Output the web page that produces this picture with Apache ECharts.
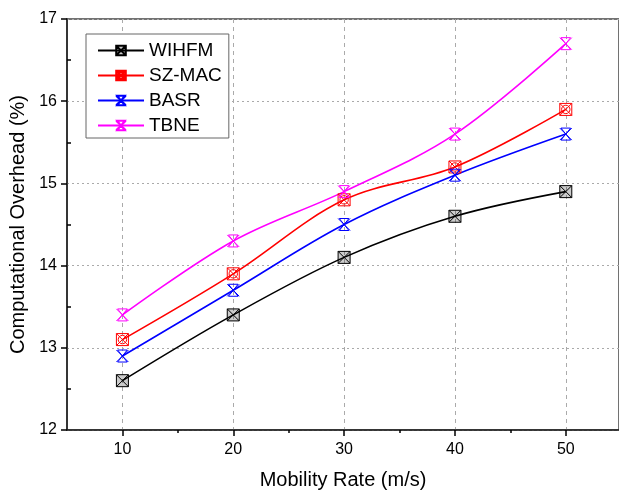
<!DOCTYPE html>
<html>
<head>
<meta charset="utf-8">
<script src="https://cdn.jsdelivr.net/npm/echarts@6/dist/echarts.min.js"></script>
<style>html,body{margin:0;padding:0;background:#fff;}#chart{width:619px;height:491px;}</style>
</head>
<body>
<div id="chart"></div>
<script>
var mobilityRates = [10, 20, 30, 40, 50];
var wihfm = [12.6, 13.4, 14.1, 14.6, 14.9];
var szmac = [13.1, 13.9, 14.8, 15.2, 15.9];
var basr = [12.9, 13.7, 14.5, 15.1, 15.6];
var tbne = [13.4, 14.3, 14.9, 15.6, 16.7];
var xMajorTicks = [10, 20, 30, 40, 50];
var xMinorTicks = [15, 25, 35, 45];
var yMajorTicks = [12, 13, 14, 15, 16, 17];
var yMinorTicks = [12.5, 13.5, 14.5, 15.5, 16.5];
var seriesNames = ['WIHFM', 'SZ-MAC', 'BASR', 'TBNE'];
var seriesColors = ['#000000', '#ff0000', '#0000ff', '#ff00ff'];
var seriesData = [wihfm, szmac, basr, tbne];
var symbols = [
  'path://M0,0L10,0L10,10L0,10Z M0,0L10,10 M10,0L0,10',
  'path://M0,0L10,0L10,10L0,10Z M0,0L10,10 M10,0L0,10 M8.5,5A3.5,3.5,0,1,1,1.5,5A3.5,3.5,0,1,1,8.5,5',
  'path://M0,0L10,10 M10,0L0,10 M1,0L9,0L5,5Z M1,10L9,10L5,5Z',
  'path://M0,0L10,10 M10,0L0,10 M1,0L9,0L5,5Z M1,10L9,10L5,5Z'
];
var FONT = 'Liberation Sans, Arial, sans-serif';
var chart = echarts.init(document.getElementById('chart'));
var series = seriesNames.map(function (n, i) {
  return {
    name: n,
    type: 'line',
    smooth: 0.35,
    data: mobilityRates.map(function (x, j) { return [x, seriesData[i][j]]; }),
    symbol: symbols[i],
    symbolSize: 12,
    showAllSymbol: true,
    lineStyle: { color: seriesColors[i], width: 1.6 },
    itemStyle: { color: i === 0 ? 'rgba(0,0,0,0.2)' : 'rgba(255,255,255,0)', borderColor: seriesColors[i], borderWidth: 1 },
    emphasis: { disabled: true }
  };
});
chart.setOption({
  animation: false,
  backgroundColor: '#fff',
  textStyle: { fontFamily: FONT },
  grid: { left: 67, top: 19, bottom: 61, right: 0, containLabel: false, outerBoundsMode: 'none',
    show: true, borderColor: '#444', borderWidth: 1.5, backgroundColor: 'transparent' },
  legend: {
    left: 86, top: 34, orient: 'vertical',
    itemWidth: 46, itemHeight: 12, itemGap: 6,
    padding: [7, 7, 3, 11],
    borderColor: '#666', borderWidth: 1,
    backgroundColor: '#fff',
    textStyle: { fontSize: 19, color: '#000', fontFamily: FONT },
    data: seriesNames
  },
  xAxis: [{
    type: 'value', min: 5, max: 54.8, interval: 5,
    name: 'Mobility Rate (m/s)', nameLocation: 'middle', nameGap: 40,
    nameTextStyle: { fontSize: 20, color: '#000' },
    axisLine: { lineStyle: { color: '#222', width: 1.5 } },
    axisTick: { show: true, length: 6, customValues: xMajorTicks, lineStyle: { color: '#000', width: 1.5 } },
    axisLabel: { fontSize: 16, color: '#000', margin: 12, customValues: xMajorTicks,
      formatter: function (v) { return v % 10 === 0 ? String(v) : ''; } },
    splitLine: { show: true, lineStyle: { type: [4, 4], color: '#aaa', width: 1 } }
  }, {
    type: 'value', min: 5, max: 54.8, interval: 5, position: 'bottom',
    axisLine: { show: false },
    axisTick: { show: true, length: 3, customValues: xMinorTicks, lineStyle: { color: '#000', width: 1.5 } },
    axisLabel: { show: false },
    splitLine: { show: false }
  }],
  yAxis: [{
    type: 'value', min: 12, max: 17, interval: 0.5,
    name: 'Computational Overhead (%)', nameLocation: 'middle', nameGap: 38,
    nameTextStyle: { fontSize: 20, color: '#000' },
    axisLine: { show: true, lineStyle: { color: '#222', width: 1.5 } },
    axisTick: { show: true, length: 6, customValues: yMajorTicks, lineStyle: { color: '#000', width: 1.5 } },
    axisLabel: { fontSize: 16, color: '#000', margin: 10, customValues: yMajorTicks,
      formatter: function (v) { return Math.abs(v - Math.round(v)) < 1e-6 ? String(Math.round(v)) : ''; } },
    splitLine: { show: true, lineStyle: { type: [2, 3], color: '#aaa', width: 1 } }
  }, {
    type: 'value', min: 12, max: 17, interval: 0.5, position: 'left',
    axisLine: { show: false },
    axisTick: { show: true, inside: true, length: 4, customValues: yMinorTicks, lineStyle: { color: '#000', width: 1.5 } },
    axisLabel: { show: false },
    splitLine: { show: false }
  }],
  series: series
});
</script>
</body>
</html>
